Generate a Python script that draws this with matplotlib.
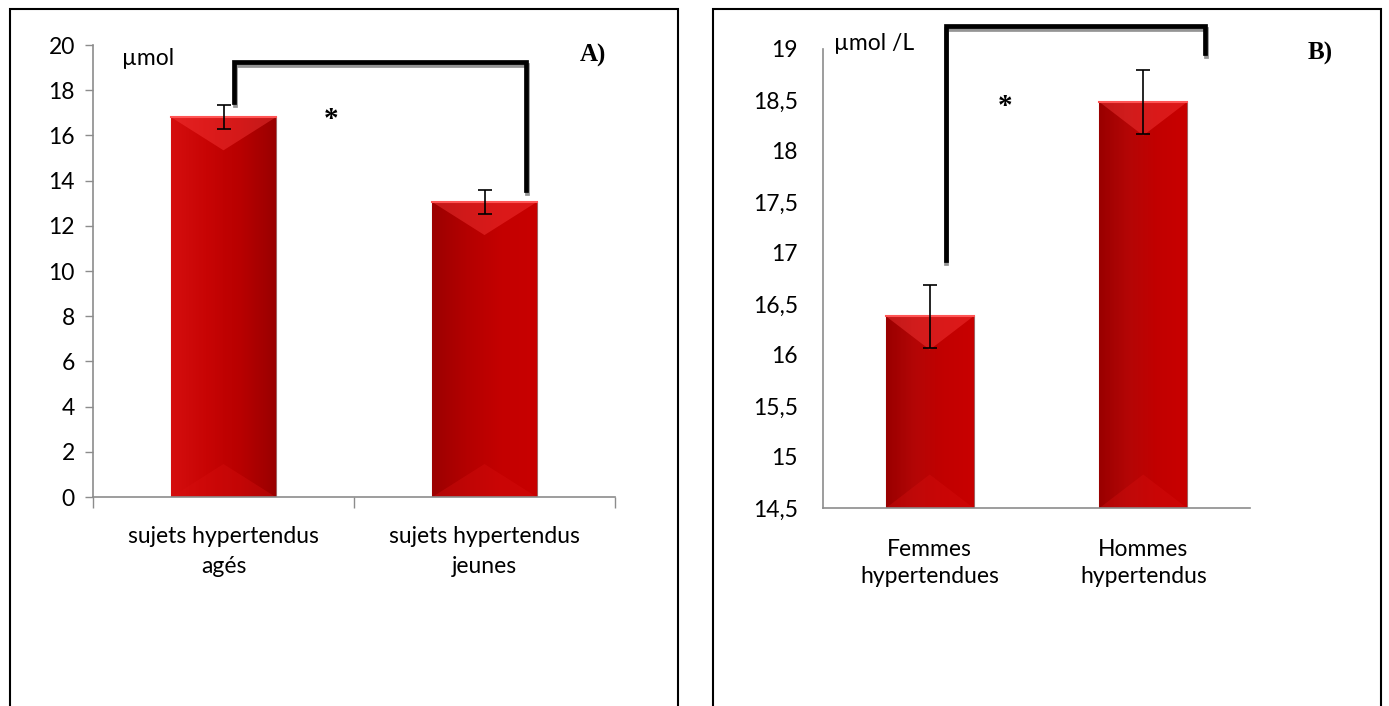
import numpy as np
import matplotlib as mpl
import matplotlib.pyplot as plt
from matplotlib.colors import LinearSegmentedColormap
from matplotlib.patches import Polygon, Rectangle
import matplotlib.patheffects as pe

mpl.rcParams['font.family'] = ['Lato', 'DejaVu Sans']

# --- data ---
cats_a = ['sujets hypertendus\nagés', 'sujets hypertendus\njeunes']
vals_a = [16.8, 13.05]
err_a = [0.53, 0.52]

cats_b = ['Femmes\nhypertendues', 'Hommes\nhypertendus']
vals_b = [16.38, 18.48]
err_b = [0.31, 0.31]

yticks_a = [0, 2, 4, 6, 8, 10, 12, 14, 16, 18, 20]
yticks_b = [14.5, 15, 15.5, 16, 16.5, 17, 17.5, 18, 18.5, 19]
yticklabels_b = ['14,5', '15', '15,5', '16', '16,5', '17', '17,5', '18', '18,5', '19']

AXIS_GREY = '#8c8c8c'
FS = 16.5


def shaded_bars(ax, x, vals, width, grads, ylo):
    """Excel-like bevelled red bars."""
    bars = ax.bar(x, vals, width=width, color='#c00000', edgecolor='#a06060',
                  linewidth=0.8, zorder=2)
    span = ax.get_ylim()[1] - ax.get_ylim()[0]
    bevel = 0.073 * span
    for b, cols in zip(bars, grads):
        x0 = b.get_x()
        x1 = x0 + b.get_width()
        top = b.get_height()
        cmap = LinearSegmentedColormap.from_list('g', cols)
        im = ax.imshow(np.linspace(0, 1, 64)[None, :], cmap=cmap, aspect='auto',
                       extent=[x0, x1, ylo, top], zorder=2.1)
        im.set_clip_path(b)
        xc = 0.5 * (x0 + x1)
        tri = Polygon([[x0, top], [x1, top], [xc, top - bevel]], closed=True,
                      fc='#ff4040', ec='none', alpha=0.4, zorder=2.2)
        ax.add_patch(tri)
        tri.set_clip_path(b)
        tri2 = Polygon([[x0, ylo], [x1, ylo], [xc, ylo + bevel]], closed=True,
                       fc='#d81010', ec='none', alpha=0.35, zorder=2.2)
        ax.add_patch(tri2)
        tri2.set_clip_path(b)
        ax.plot([x0, x1], [top, top], color='#ff5555', lw=1.5, zorder=2.3)
    return bars


def bracket(ax, xl, xr, ytop, yl, yr):
    fx = [pe.SimpleLineShadow(offset=(0.5, -2.2), shadow_color='#888888', alpha=0.9),
          pe.Normal()]
    ax.plot([xl, xl, xr, xr], [yl, ytop, ytop, yr], color='black', lw=3.4,
            solid_joinstyle='miter', clip_on=False, zorder=5, path_effects=fx)


fig = plt.figure(figsize=(13.89, 7.06), dpi=100)

# panel frames
for x0 in (10, 713):
    fig.add_artist(Rectangle((x0 / 1389, -0.05), 668 / 1389, 1 - 9 / 706 + 0.05,
                             transform=fig.transFigure, fill=False,
                             ec='black', lw=1.5))

# ---------------- panel A ----------------
axa = fig.add_axes([93 / 1389, 1 - 497 / 706, 522 / 1389, 452 / 706])
xa = np.arange(len(cats_a))
axa.set_xlim(-0.5, 1.5)
axa.set_ylim(0, 20)
shaded_bars(axa, xa, vals_a, 0.4,
            [('#d40e0e', '#c80404', '#b80000', '#9a0000'),
             ('#9c0000', '#b40000', '#c40000', '#c80000')], 0)
axa.errorbar(xa, vals_a, yerr=err_a, fmt='none', ecolor='black', elinewidth=1.2,
             capsize=5, capthick=1.2, zorder=4)
axa.set_xlim(-0.5, 1.5)
axa.set_ylim(0, 20)
axa.set_yticks(yticks_a)
axa.set_xticks(xa)
axa.set_xticklabels(cats_a, fontsize=FS, linespacing=1.5)
axa.set_xticks([-0.5, 0.5, 1.5], minor=True)
axa.tick_params(axis='x', which='major', length=0, pad=21)
axa.tick_params(axis='x', which='minor', length=8, color=AXIS_GREY, width=1)
axa.tick_params(axis='y', length=6, color=AXIS_GREY, width=1, labelsize=FS, pad=7)
for s in ('top', 'right'):
    axa.spines[s].set_visible(False)
for s in ('left', 'bottom'):
    axa.spines[s].set_color(AXIS_GREY)
    axa.spines[s].set_linewidth(1.2)
axa.text(0.105, 0.971, 'µmol', fontsize=FS, ha='center', va='center',
         transform=axa.transAxes)
axa.text(0.957, 0.976, 'A)', fontsize=18, fontweight='bold', family='Liberation Serif',
         ha='center', va='center', transform=axa.transAxes)
axa.text(0.456, 0.835, '*', fontsize=21, fontweight='bold', family='Liberation Serif',
         ha='center', va='center', transform=axa.transAxes)
bracket(axa, 0.04, 1.16, 19.25, 17.5, 13.6)

# ---------------- panel B ----------------
axb = fig.add_axes([823 / 1389, 1 - 508 / 706, 427 / 1389, 459 / 706])
xb = np.arange(len(cats_b))
axb.set_xlim(-0.5, 1.5)
axb.set_ylim(14.5, 19)
shaded_bars(axb, xb, vals_b, 0.41,
            [('#9a0000', '#b40606', '#c20000', '#c80000'),
             ('#9a0000', '#b40606', '#c20000', '#c80000')], 14.5)
axb.errorbar(xb, vals_b, yerr=err_b, fmt='none', ecolor='black', elinewidth=1.2,
             capsize=5, capthick=1.2, zorder=4)
axb.set_xlim(-0.5, 1.5)
axb.set_ylim(14.5, 19)
axb.set_yticks(yticks_b)
axb.set_yticklabels(yticklabels_b)
axb.set_xticks(xb)
axb.set_xticklabels(cats_b, fontsize=FS, linespacing=1.4)
axb.tick_params(axis='x', length=0, pad=22)
axb.tick_params(axis='y', length=0, labelsize=FS, pad=18)
for s in ('top', 'right'):
    axb.spines[s].set_visible(False)
for s in ('left', 'bottom'):
    axb.spines[s].set_color(AXIS_GREY)
    axb.spines[s].set_linewidth(1.2)
axb.text(0.119, 1.013, 'µmol /L', fontsize=FS, ha='center', va='center',
         transform=axb.transAxes)
axb.text(1.164, 0.991, 'B)', fontsize=18, fontweight='bold', family='Liberation Serif',
         ha='center', va='center', transform=axb.transAxes)
axb.text(0.426, 0.875, '*', fontsize=21, fontweight='bold', family='Liberation Serif',
         ha='center', va='center', transform=axb.transAxes)
bracket(axb, 0.075, 1.29, 19.23, 16.93, 18.96)

fig.savefig('out.png', dpi=100)
